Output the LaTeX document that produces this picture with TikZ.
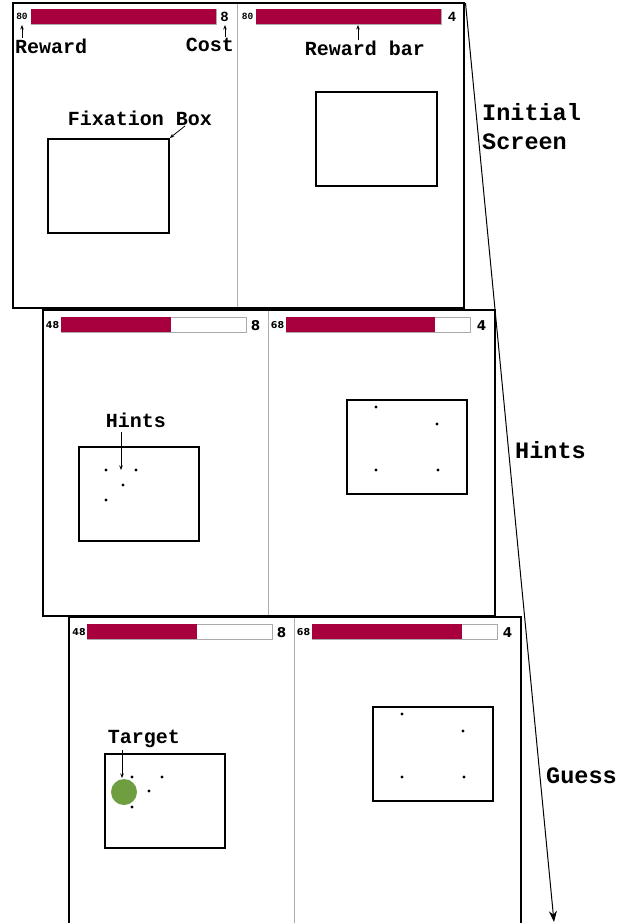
\documentclass[tikz,border=0pt]{standalone}
\usepackage{fontspec}
\setmonofont{Liberation Mono}
\newfontfamily\numfont{DejaVu Sans}
\usetikzlibrary{arrows.meta}
\definecolor{barred}{RGB}{168,0,62}
\definecolor{targetgreen}{RGB}{110,158,64}
\definecolor{bargray}{RGB}{170,170,170}
\definecolor{divgray}{RGB}{175,175,175}
\tikzset{
  screenframe/.style={draw=black, line width=1.7pt},
  divider/.style={draw=divgray, line width=0.8pt},
  barout/.style={draw=bargray, line width=0.9pt, fill=white, minimum height=15pt, inner sep=0pt, anchor=north west},
  barfill/.style={fill=barred, draw=none, minimum height=15pt, inner sep=0pt, anchor=north west},
  fixbox/.style={draw=black, line width=1.8pt, minimum width=121pt, minimum height=94pt, inner sep=0pt, anchor=north west},
  hintdot/.style={circle, fill=black, inner sep=0pt, minimum size=3.2pt},
  lbl/.style={font=\fontsize{20}{22}\selectfont\ttfamily\bfseries, inner sep=0pt},
  biglbl/.style={font=\fontsize{23.5}{29}\selectfont\ttfamily\bfseries, inner sep=0pt, align=left, anchor=west},
  smallnum/.style={font=\fontsize{9.5}{10}\selectfont\ttfamily\bfseries, inner sep=0pt},
  smallnumsans/.style={font=\fontsize{9.5}{10}\selectfont\numfont\bfseries, inner sep=0pt},
  costnum/.style={font=\fontsize{14}{15}\selectfont\ttfamily\bfseries, inner sep=0pt},
  costnumsans/.style={font=\fontsize{13.5}{15}\selectfont\numfont\bfseries, inner sep=0pt},
  pointer/.style={-{Stealth[length=4.5pt,width=3.5pt]}, line width=0.8pt},
  bigarrow/.style={-{Stealth[length=11pt,width=8pt]}, line width=1pt},
}
\begin{document}
\begin{tikzpicture}[x=1pt,y=-1pt]
\useasboundingbox (0,0) rectangle (631,923);

% ---------- Screen 1 : Initial Screen ----------
\draw[divider] (237,3) -- (237,309);
\draw[screenframe] (13,3) rectangle (464,308);
% left panel
\node[barout, minimum width=185pt] (b1l) at (31,9) {};
\node[barfill, minimum width=185pt] (b1lf) at (31,9) {};
\node[smallnum] (n1l) at (22,16) {80};
\node[costnum] (c1l) at (224.5,16.5) {8};
\node[lbl, anchor=west] (rew) at (15,46.5) {Reward};
\node[lbl, anchor=east] (cost) at (234,45) {Cost};
\coordinate (rewtail) at (22,38);
\coordinate (rewtip) at (22,25);
\coordinate (costtail) at (225,37);
\coordinate (costtip) at (225,25);
\draw[pointer] (rewtail) -- (rewtip);
\draw[pointer] (costtail) -- (costtip);
\node[lbl] (fixlbl) at (140,118.5) {Fixation Box};
\node[fixbox] (box1l) at (47,138) {};
\coordinate (fixtail) at (185,126);
\draw[pointer] (fixtail) -- (box1l.north east);
% right panel
\node[barout, minimum width=185pt] (b1r) at (256,9) {};
\node[barfill, minimum width=185pt] (b1rf) at (256,9) {};
\node[smallnum] (n1r) at (247.5,16) {80};
\node[costnum] (c1r) at (452,16.5) {4};
\node[lbl] (rbarlbl) at (365,48) {Reward bar};
\coordinate (rbartail) at (358,40);
\coordinate (rbartip) at (358,25);
\draw[pointer] (rbartail) -- (rbartip);
\node[fixbox] (box1r) at (315,91) {};

% ---------- Screen 2 : Hints ----------
\draw[divider] (268,310) -- (268,616);
\draw[screenframe] (43,310) rectangle (495,616);
% left panel
\node[barout, minimum width=185pt] (b2l) at (61,317) {};
\node[barfill, minimum width=110pt] (b2lf) at (61,317) {};
\node[smallnumsans] (n2l) at (52.5,325) {48};
\node[costnumsans] (c2l) at (255.5,325.5) {8};
\node[lbl] (hintlbl) at (136,420) {Hints};
\node[fixbox, minimum width=120pt] (box2l) at (78,446) {};
\node[hintdot] (h2a) at (106,470) {};
\node[hintdot] (h2b) at (136,470) {};
\node[hintdot] (h2c) at (123,485) {};
\node[hintdot] (h2d) at (106,500) {};
\coordinate (hinttail) at (121,432);
\coordinate (hinttip) at (121,470);
\draw[pointer] (hinttail) -- (hinttip);
% right panel
\node[barout, minimum width=184pt] (b2r) at (286,317) {};
\node[barfill, minimum width=149pt] (b2rf) at (286,317) {};
\node[smallnumsans] (n2r) at (277.5,325) {68};
\node[costnumsans] (c2r) at (481.5,325.5) {4};
\node[fixbox, minimum width=120pt] (box2r) at (346,399) {};
\node[hintdot] (h2e) at (376,407) {};
\node[hintdot] (h2f) at (437,424) {};
\node[hintdot] (h2g) at (376,470) {};
\node[hintdot] (h2h) at (438,470) {};

% ---------- Screen 3 : Guess ----------
\draw[divider] (294,617) -- (294,930);
\draw[screenframe] (69,930) -- (69,617) -- (521,617) -- (521,930);
% left panel
\node[barout, minimum width=185pt] (b3l) at (87,624) {};
\node[barfill, minimum width=110pt] (b3lf) at (87,624) {};
\node[smallnumsans] (n3l) at (79,632) {48};
\node[costnumsans] (c3l) at (281.5,632.5) {8};
\node[lbl] (targlbl) at (144,739) {Target};
\node[fixbox, minimum width=120pt] (box3l) at (104,753) {};
\node[circle, fill=targetgreen, inner sep=0pt, minimum size=26pt] (target) at (124,792) {};
\node[hintdot] (h3a) at (132,777) {};
\node[hintdot] (h3b) at (162,777) {};
\node[hintdot] (h3c) at (149,791) {};
\node[hintdot] (h3d) at (132,807) {};
\coordinate (targtail) at (122,750);
\coordinate (targtip) at (122,778);
\draw[pointer] (targtail) -- (targtip);
% right panel
\node[barout, minimum width=185pt] (b3r) at (312,624) {};
\node[barfill, minimum width=150pt] (b3rf) at (312,624) {};
\node[smallnumsans] (n3r) at (303.5,632) {68};
\node[costnumsans] (c3r) at (507.5,632.5) {4};
\node[fixbox, minimum width=120pt] (box3r) at (372,706) {};
\node[hintdot] (h3e) at (402,714) {};
\node[hintdot] (h3f) at (463,731) {};
\node[hintdot] (h3g) at (402,777) {};
\node[hintdot] (h3h) at (464,777) {};

% ---------- Time arrow and stage labels ----------
\coordinate (tstart) at (465.5,3);
\coordinate (tend) at (554,922);
\draw[bigarrow] (tstart) -- (tend);
\node[biglbl] (stage1) at (482,126.5) {Initial\\Screen};
\node[biglbl] (stage2) at (515,450) {Hints};
\node[biglbl] (stage3) at (546,776) {Guess};
\end{tikzpicture}
\end{document}
